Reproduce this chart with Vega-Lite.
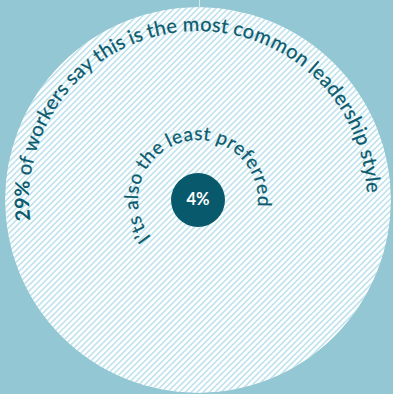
{
  "$schema": "https://vega.github.io/schema/vega-lite/v6.json",
  "width": 390,
  "height": 388,
  "autosize": {"type": "none"},
  "padding": {"left": 3, "top": 6, "right": 0, "bottom": 0},
  "background": "#93c7d3",
  "config": {"view": {"stroke": null}},
  "datasets": {
    "disc": [{"style": "most common", "share_most_common": 0.29, "share_preferred": 0.04}],
    "outer": [
      {"i": 0, "c": "2"}, {"i": 1, "c": "9"}, {"i": 2, "c": "%"}, {"i": 3, "c": " "},
      {"i": 4, "c": "o"}, {"i": 5, "c": "f"}, {"i": 6, "c": " "},
      {"i": 7, "c": "w"}, {"i": 8, "c": "o"}, {"i": 9, "c": "r"}, {"i": 10, "c": "k"}, {"i": 11, "c": "e"}, {"i": 12, "c": "r"}, {"i": 13, "c": "s"}, {"i": 14, "c": " "},
      {"i": 15, "c": "s"}, {"i": 16, "c": "a"}, {"i": 17, "c": "y"}, {"i": 18, "c": " "},
      {"i": 19, "c": "t"}, {"i": 20, "c": "h"}, {"i": 21, "c": "i"}, {"i": 22, "c": "s"}, {"i": 23, "c": " "},
      {"i": 24, "c": "i"}, {"i": 25, "c": "s"}, {"i": 26, "c": " "},
      {"i": 27, "c": "t"}, {"i": 28, "c": "h"}, {"i": 29, "c": "e"}, {"i": 30, "c": " "},
      {"i": 31, "c": "m"}, {"i": 32, "c": "o"}, {"i": 33, "c": "s"}, {"i": 34, "c": "t"}, {"i": 35, "c": " "},
      {"i": 36, "c": "c"}, {"i": 37, "c": "o"}, {"i": 38, "c": "m"}, {"i": 39, "c": "m"}, {"i": 40, "c": "o"}, {"i": 41, "c": "n"}, {"i": 42, "c": " "},
      {"i": 43, "c": "l"}, {"i": 44, "c": "e"}, {"i": 45, "c": "a"}, {"i": 46, "c": "d"}, {"i": 47, "c": "e"}, {"i": 48, "c": "r"}, {"i": 49, "c": "s"}, {"i": 50, "c": "h"}, {"i": 51, "c": "i"}, {"i": 52, "c": "p"}, {"i": 53, "c": " "},
      {"i": 54, "c": "s"}, {"i": 55, "c": "t"}, {"i": 56, "c": "y"}, {"i": 57, "c": "l"}, {"i": 58, "c": "e"}
    ],
    "inner": [
      {"i": 0, "c": "I"}, {"i": 1, "c": "’"}, {"i": 2, "c": "t"}, {"i": 3, "c": "s"}, {"i": 4, "c": " "},
      {"i": 5, "c": "a"}, {"i": 6, "c": "l"}, {"i": 7, "c": "s"}, {"i": 8, "c": "o"}, {"i": 9, "c": " "},
      {"i": 10, "c": "t"}, {"i": 11, "c": "h"}, {"i": 12, "c": "e"}, {"i": 13, "c": " "},
      {"i": 14, "c": "l"}, {"i": 15, "c": "e"}, {"i": 16, "c": "a"}, {"i": 17, "c": "s"}, {"i": 18, "c": "t"}, {"i": 19, "c": " "},
      {"i": 20, "c": "p"}, {"i": 21, "c": "r"}, {"i": 22, "c": "e"}, {"i": 23, "c": "f"}, {"i": 24, "c": "e"}, {"i": 25, "c": "r"}, {"i": 26, "c": "r"}, {"i": 27, "c": "e"}, {"i": 28, "c": "d"}
    ],
    "glyphs": [
      {"c": "2", "w": 0.58}, {"c": "9", "w": 0.58}, {"c": "%", "w": 0.8}, {"c": " ", "w": 0.24},
      {"c": "o", "w": 0.57}, {"c": "f", "w": 0.33}, {"c": "w", "w": 0.79}, {"c": "r", "w": 0.38},
      {"c": "k", "w": 0.52}, {"c": "e", "w": 0.53}, {"c": "s", "w": 0.43}, {"c": "a", "w": 0.51},
      {"c": "y", "w": 0.52}, {"c": "t", "w": 0.36}, {"c": "h", "w": 0.57}, {"c": "i", "w": 0.25},
      {"c": "m", "w": 0.86}, {"c": "c", "w": 0.47}, {"c": "n", "w": 0.57}, {"c": "l", "w": 0.25},
      {"c": "d", "w": 0.57}, {"c": "p", "w": 0.57}, {"c": "I", "w": 0.29}, {"c": "’", "w": 0.22}
    ]
  },
  "resolve": {"scale": {"theta": "independent", "angle": "independent"}},
  "layer": [
    {
      "data": {"name": "disc"},
      "mark": {"type": "point", "shape": "circle", "filled": true, "color": "#ffffff", "size": 148996, "opacity": 1, "strokeWidth": 0},
      "encoding": {}
    },
    {
      "data": {"name": "disc"},
      "mark": {"type": "point", "filled": false, "stroke": "#bfe2ec", "strokeWidth": 1.6, "size": 148996, "opacity": 1,
        "shape": "M-1.713 0.287l2-2m-1.9845 2.0155l2-2m-1.9845 2.0155l2-2m-1.9845 2.0155l2-2m-1.9845 2.0155l2-2m-1.9845 2.0155l2-2m-1.9845 2.0155l2-2m-1.9845 2.0155l2-2m-1.9845 2.0155l2-2m-1.9845 2.0155l2-2m-1.9845 2.0155l2-2m-1.9845 2.0155l2-2m-1.9845 2.0155l2-2m-1.9845 2.0155l2-2m-1.9845 2.0155l2-2m-1.9845 2.0155l2-2m-1.9845 2.0155l2-2m-1.9845 2.0155l2-2m-1.9845 2.0155l2-2m-1.9845 2.0155l2-2m-1.9845 2.0155l2-2m-1.9845 2.0155l2-2m-1.9845 2.0155l2-2m-1.9845 2.0155l2-2m-1.9845 2.0155l2-2m-1.9845 2.0155l2-2m-1.9845 2.0155l2-2m-1.9845 2.0155l2-2m-1.9845 2.0155l2-2m-1.9845 2.0155l2-2m-1.9845 2.0155l2-2m-1.9845 2.0155l2-2m-1.9845 2.0155l2-2m-1.9845 2.0155l2-2m-1.9845 2.0155l2-2m-1.9845 2.0155l2-2m-1.9845 2.0155l2-2m-1.9845 2.0155l2-2m-1.9845 2.0155l2-2m-1.9845 2.0155l2-2m-1.9845 2.0155l2-2m-1.9845 2.0155l2-2m-1.9845 2.0155l2-2m-1.9845 2.0155l2-2m-1.9845 2.0155l2-2m-1.9845 2.0155l2-2m-1.9845 2.0155l2-2m-1.9845 2.0155l2-2m-1.9845 2.0155l2-2m-1.9845 2.0155l2-2m-1.9845 2.0155l2-2m-1.9845 2.0155l2-2m-1.9845 2.0155l2-2m-1.9845 2.0155l2-2m-1.9845 2.0155l2-2m-1.9845 2.0155l2-2m-1.9845 2.0155l2-2m-1.9845 2.0155l2-2m-1.9845 2.0155l2-2m-1.9845 2.0155l2-2m-1.9845 2.0155l2-2m-1.9845 2.0155l2-2m-1.9845 2.0155l2-2m-1.9845 2.0155l2-2m-1.9845 2.0155l2-2m-1.9845 2.0155l2-2m-1.9845 2.0155l2-2m-1.9845 2.0155l2-2m-1.9845 2.0155l2-2m-1.9845 2.0155l2-2m-1.9845 2.0155l2-2m-1.9845 2.0155l2-2m-1.9845 2.0155l2-2m-1.9845 2.0155l2-2m-1.9845 2.0155l2-2m-1.9845 2.0155l2-2m-1.9845 2.0155l2-2m-1.9845 2.0155l2-2m-1.9845 2.0155l2-2m-1.9845 2.0155l2-2m-1.9845 2.0155l2-2m-1.9845 2.0155l2-2m-1.9845 2.0155l2-2m-1.9845 2.0155l2-2m-1.9845 2.0155l2-2m-1.9845 2.0155l2-2m-1.9845 2.0155l2-2m-1.9845 2.0155l2-2m-1.9845 2.0155l2-2m-1.9845 2.0155l2-2m-1.9845 2.0155l2-2m-1.9845 2.0155l2-2m-1.9845 2.0155l2-2m-1.9845 2.0155l2-2m-1.9845 2.0155l2-2m-1.9845 2.0155l2-2m-1.9845 2.0155l2-2m-1.9845 2.0155l2-2m-1.9845 2.0155l2-2m-1.9845 2.0155l2-2m-1.9845 2.0155l2-2m-1.9845 2.0155l2-2m-1.9845 2.0155l2-2m-1.9845 2.0155l2-2m-1.9845 2.0155l2-2m-1.9845 2.0155l2-2m-1.9845 2.0155l2-2m-1.9845 2.0155l2-2m-1.9845 2.0155l2-2m-1.9845 2.0155l2-2m-1.9845 2.0155l2-2"},
      "encoding": {}
    },
    {
      "data": {"name": "disc"},
      "mark": {"type": "point", "shape": "circle", "filled": false, "stroke": "#93c7d3", "strokeWidth": 92, "size": 228484, "opacity": 1},
      "encoding": {}
    },
    {
      "data": {"name": "disc"},
      "mark": {"type": "point", "shape": "M0.008 -1L0.008 -1.1", "filled": false, "stroke": "#d3ebf0", "strokeWidth": 1, "size": 148996, "opacity": 1},
      "encoding": {}
    },
    {
      "data": {"name": "disc"},
      "mark": {"type": "point", "shape": "circle", "filled": true, "color": "#07596b", "size": 2916, "opacity": 1, "strokeWidth": 0},
      "encoding": {}
    },
    {
      "data": {"name": "disc"},
      "mark": {"type": "text", "font": "Lato", "fontWeight": "bold", "fontSize": 16.5, "color": "#ffffff", "align": "center", "baseline": "middle"},
      "encoding": {"text": {"field": "share_preferred", "type": "quantitative", "format": ".0%"}}
    },
    {
      "data": {"name": "outer"},
      "transform": [
        {"lookup": "c", "from": {"data": {"name": "glyphs"}, "key": "c", "fields": ["w"]}},
        {"window": [{"op": "sum", "field": "w", "as": "cum"}], "sort": [{"field": "i", "order": "ascending"}], "frame": [null, 0]},
        {"joinaggregate": [{"op": "sum", "field": "w", "as": "tot"}]},
        {"calculate": "(datum.cum - datum.w / 2) / datum.tot", "as": "t"}
      ],
      "encoding": {
        "theta": {"field": "t", "type": "quantitative", "stack": null, "scale": {"domain": [0, 1], "range": [-1.693, 1.5307]}},
        "angle": {"field": "t", "type": "quantitative", "scale": {"domain": [0, 1], "range": [-97, 87.7]}},
        "radius": {"value": 169},
        "text": {"field": "c", "type": "nominal"}
      },
      "layer": [
        {
          "transform": [{"filter": "datum.i < 3"}],
          "mark": {"type": "text", "font": "Lato", "fontWeight": "bold", "fontSize": 20, "color": "#0b5b6e", "align": "center", "baseline": "alphabetic"}
        },
        {
          "transform": [{"filter": "datum.i >= 3"}],
          "mark": {"type": "text", "font": "Lato", "fontSize": 20, "color": "#0b5b6e", "align": "center", "baseline": "alphabetic", "stroke": "#0b5b6e", "strokeWidth": 0.25}
        }
      ]
    },
    {
      "data": {"name": "inner"},
      "transform": [
        {"lookup": "c", "from": {"data": {"name": "glyphs"}, "key": "c", "fields": ["w"]}},
        {"window": [{"op": "sum", "field": "w", "as": "cum"}], "sort": [{"field": "i", "order": "ascending"}], "frame": [null, 0]},
        {"joinaggregate": [{"op": "sum", "field": "w", "as": "tot"}]},
        {"calculate": "(datum.cum - datum.w / 2) / datum.tot", "as": "t"}
      ],
      "mark": {"type": "text", "font": "Lato", "fontSize": 19, "color": "#0b5b6e", "align": "center", "baseline": "alphabetic", "stroke": "#0b5b6e", "strokeWidth": 0.25},
      "encoding": {
        "theta": {"field": "t", "type": "quantitative", "stack": null, "scale": {"domain": [0, 1], "range": [-2.2515, 1.6825]}},
        "angle": {"field": "t", "type": "quantitative", "scale": {"domain": [0, 1], "range": [-129, 96.4]}},
        "radius": {"value": 60},
        "text": {"field": "c", "type": "nominal"}
      }
    }
  ]
}
